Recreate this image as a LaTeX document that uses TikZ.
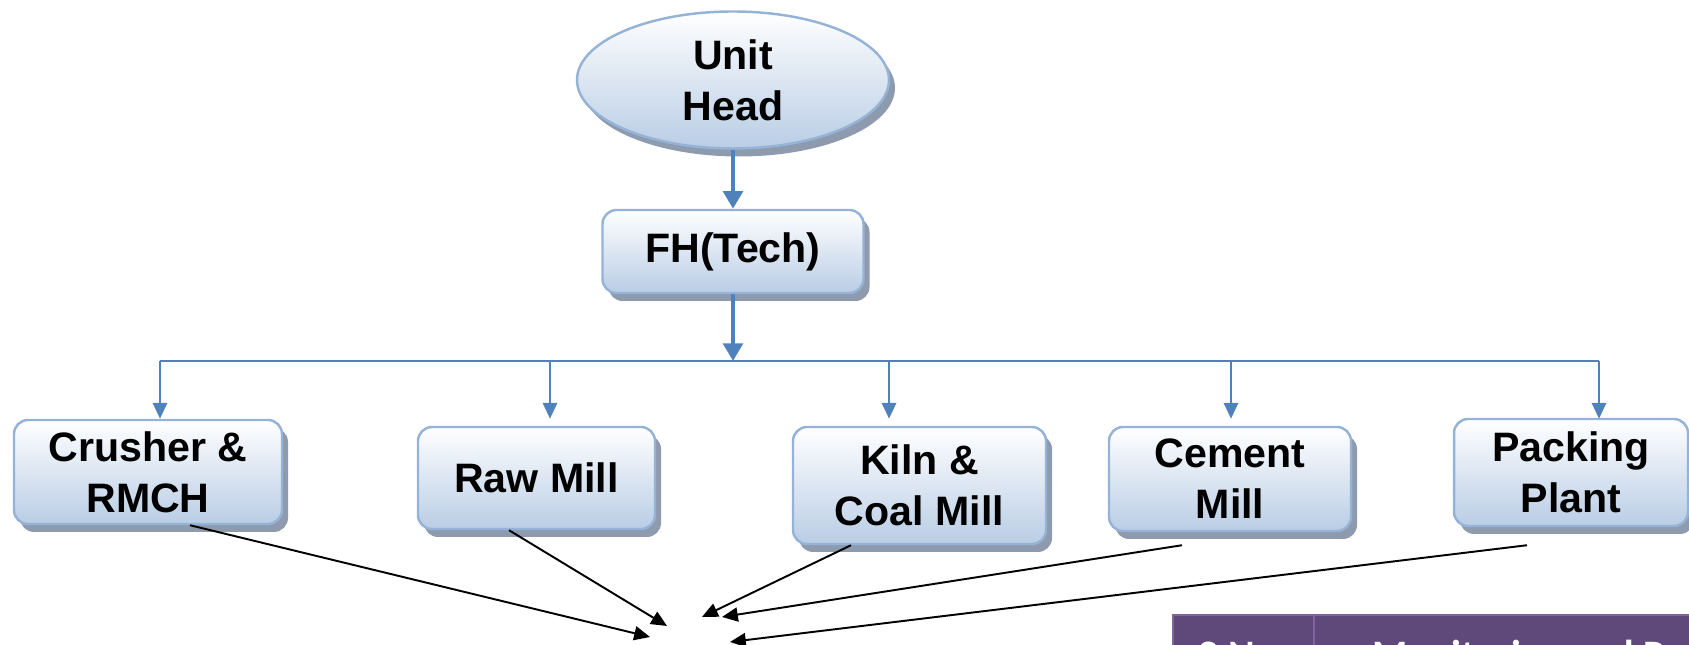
\documentclass[tikz,border=0pt]{standalone}
\usepackage{fontspec}
\setmainfont{Liberation Sans}
\newfontfamily\tablefont{Carlito}
\usetikzlibrary{shapes.geometric,shadows,arrows.meta}
\definecolor{boxblue}{HTML}{B9CDE5}
\definecolor{boxline}{HTML}{95B3D7}
\definecolor{linkblue}{HTML}{4F81BD}
\definecolor{shadowgray}{HTML}{8E9AAD}
\definecolor{headpurple}{HTML}{5F497A}
\definecolor{gridpurple}{HTML}{8064A2}

\begin{document}
\begin{tikzpicture}[x=1cm,y=-1cm,
  unitbox/.style={draw=boxline,line width=0.7pt,rounded corners=4pt,
    top color=white,bottom color=boxblue,
    drop shadow={shadow xshift=0.6mm,shadow yshift=-0.8mm,fill=shadowgray,opacity=1},
    align=center,inner sep=0pt,font=\bfseries\fontsize{11.7}{14.5}\selectfont},
  bluelink/.style={linkblue,line width=0.8pt,-{Triangle[width=4pt,length=4.5pt]}},
  feed/.style={black,line width=0.55pt,-{Triangle[width=4pt,length=4.5pt]}}]
  \useasboundingbox (0,0) rectangle (16.89,6.45);
  \clip (0,0) rectangle (16.89,6.45);

  % top of the chart
  \node[unitbox,ellipse,minimum width=3.12cm,minimum height=1.37cm] (head) at (7.33,0.80) {Unit\\Head};
  \node[unitbox,minimum width=2.61cm,minimum height=0.83cm] (fh) at (7.33,2.515) {FH(Tech)};

  % sections
  \node[unitbox,minimum width=2.68cm,minimum height=1.04cm] (crusher) at (1.48,4.72) {Crusher \&\\RMCH};
  \node[unitbox,minimum width=2.37cm,minimum height=1.02cm] (raw) at (5.365,4.78) {Raw Mill};
  \node[unitbox,minimum width=2.53cm,minimum height=1.17cm] (kiln) at (9.195,4.855) {Kiln \&\\Coal Mill};
  \node[unitbox,minimum width=2.42cm,minimum height=1.04cm] (cement) at (12.30,4.79) {Cement\\Mill};
  \node[unitbox,minimum width=2.34cm,minimum height=1.07cm] (packing) at (15.71,4.725) {Packing\\Plant};

  \draw[linkblue,line width=1.3pt,-{Triangle[width=5.5pt,length=5pt]}] (head.south) -- (fh.north);

  \coordinate (d1) at (1.60,3.61);
  \coordinate (d2) at (5.50,3.61);
  \coordinate (d3) at (8.89,3.61);
  \coordinate (d4) at (12.31,3.61);
  \coordinate (d5) at (15.99,3.61);
  \draw[linkblue,line width=1.3pt,-{Triangle[width=5.5pt,length=5pt]}] (fh.south) -- (fh.south |- d1);
  \draw[linkblue,line width=0.8pt] (d1) -- (d5);
  \foreach \d in {d1,d2,d3,d4,d5}
    \draw[bluelink] (\d) -- (\d |- crusher.north);

  % black arrows into the table
  \coordinate (t1) at (6.50,6.37);
  \coordinate (t2) at (6.67,6.26);
  \coordinate (t3) at (7.02,6.17);
  \coordinate (t4) at (7.22,6.17);
  \coordinate (t5) at (7.30,6.42);
  \draw[feed] ([xshift=4.2mm]crusher.south) -- (t1);
  \draw[feed] ([xshift=-2.75mm]raw.south) -- (t2);
  \draw[feed] ([xshift=-6.85mm]kiln.south) -- (t3);
  \draw[feed] ([xshift=-4.8mm,yshift=-1.3mm]cement.south) -- (t4);
  \draw[feed] ([xshift=-4.4mm,yshift=-1.8mm]packing.south) -- (t5);

  % table header
  \draw[gridpurple,fill=headpurple,line width=0.8pt] (11.73,6.15) rectangle (17.2,7.2);
  \draw[gridpurple,line width=0.8pt] (13.14,6.15) -- (13.14,7.2);
  \node[white,anchor=base,font=\tablefont\bfseries\fontsize{11.5}{14}\selectfont] (sno) at (12.38,6.69) {S.No};
  \node[white,anchor=base west,inner sep=0pt,font=\tablefont\bfseries\fontsize{11.5}{14}\selectfont] (mon) at (13.72,6.69) {Monitoring and R};
\end{tikzpicture}
\end{document}
